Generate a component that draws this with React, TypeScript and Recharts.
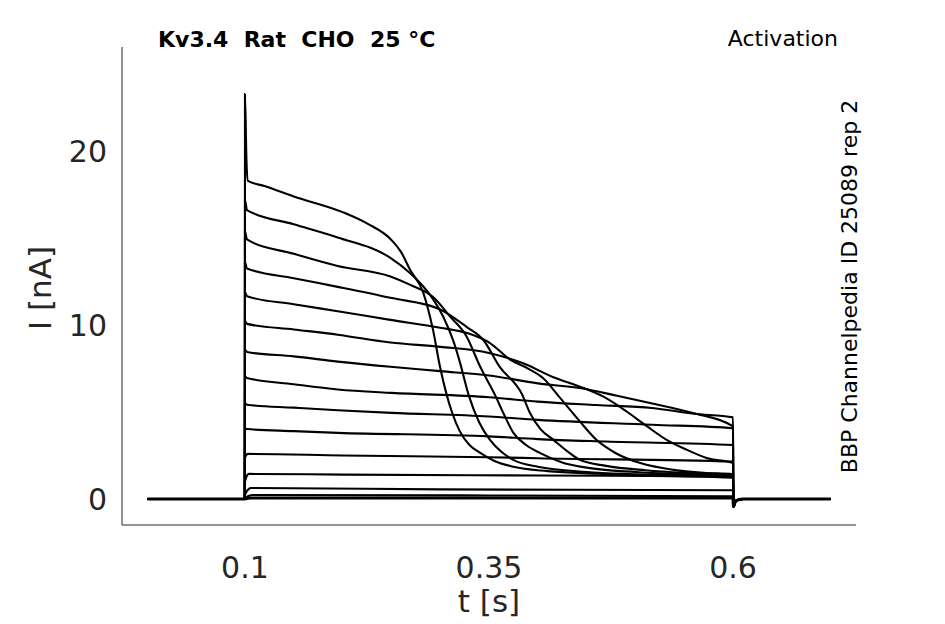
import React from "react";
import { LineChart, Line, XAxis, YAxis } from "recharts";

// ---- data: current traces [t (s), I (nA)] ----
const X_TICKS = [0.1, 0.35, 0.6];
const Y_TICKS = [0, 10, 20];

const trace1: [number, number][] = [
  [0.1, 23.3], [0.1015, 19.5], [0.103, 18.3], [0.12, 18.0], [0.15, 17.4], [0.2, 16.5],
  [0.225, 15.85], [0.25, 14.9], [0.26, 14.2], [0.269, 13.2], [0.2824, 11.9], [0.2926, 9.74],
  [0.2998, 7.6], [0.3066, 6.0], [0.312, 5.0], [0.32, 3.9], [0.33, 3.1], [0.341, 2.65],
  [0.355, 2.2], [0.375, 1.85], [0.41, 1.6], [0.46, 1.45], [0.52, 1.33], [0.6, 1.22],
];
const trace2: [number, number][] = [
  [0.1, 17.2], [0.102, 16.62], [0.15, 15.8], [0.195, 15.04], [0.249, 13.87], [0.269, 13.0],
  [0.279, 12.45], [0.293, 11.47], [0.303, 10.5], [0.313, 9.16], [0.32, 7.9], [0.329, 6.0],
  [0.34, 4.4], [0.351, 3.4], [0.363, 2.7], [0.375, 2.25], [0.4, 1.85], [0.45, 1.55],
  [0.5, 1.42], [0.6, 1.28],
];
const trace3: [number, number][] = [
  [0.1, 15.4], [0.102, 14.93], [0.15, 14.1], [0.195, 13.4], [0.249, 12.8], [0.27, 12.3],
  [0.293, 11.6], [0.31, 10.5], [0.327, 9.35], [0.341, 7.6], [0.356, 6.0], [0.365, 4.9],
  [0.375, 3.8], [0.388, 3.1], [0.402, 2.65], [0.425, 2.1], [0.45, 1.8], [0.5, 1.55],
  [0.55, 1.42], [0.6, 1.32],
];
const trace4: [number, number][] = [
  [0.1, 13.6], [0.102, 13.26], [0.15, 12.7], [0.195, 12.2], [0.249, 11.57], [0.3, 10.9],
  [0.327, 9.9], [0.344, 9.16], [0.361, 7.6], [0.384, 6.0], [0.392, 4.94], [0.403, 4.0],
  [0.416, 3.4], [0.43, 2.75], [0.443, 2.25], [0.47, 1.9], [0.51, 1.65], [0.55, 1.5],
  [0.6, 1.4],
];
const trace5: [number, number][] = [
  [0.1, 11.9], [0.102, 11.66], [0.15, 11.2], [0.195, 10.8], [0.249, 10.3], [0.3, 9.85],
  [0.33, 9.5], [0.351, 8.97], [0.372, 8.0], [0.39, 7.5], [0.405, 6.97], [0.423, 5.8],
  [0.443, 4.46], [0.46, 3.4], [0.48, 2.63], [0.505, 2.06], [0.539, 1.67], [0.57, 1.5],
  [0.6, 1.42],
];
const trace6: [number, number][] = [
  [0.1, 10.25], [0.102, 10.07], [0.15, 9.75], [0.195, 9.45], [0.249, 9.0], [0.3, 8.75],
  [0.35, 8.4], [0.385, 7.8], [0.416, 7.0], [0.446, 6.4], [0.47, 5.8], [0.491, 5.03],
  [0.512, 4.17], [0.532, 3.4], [0.553, 2.82], [0.573, 2.35], [0.6, 2.06],
];
const trace7: [number, number][] = [
  [0.1, 8.6], [0.102, 8.45], [0.15, 8.2], [0.195, 7.9], [0.249, 7.6], [0.3, 7.35],
  [0.35, 7.1], [0.4, 6.65], [0.446, 6.35], [0.48, 5.95], [0.515, 5.52], [0.559, 4.94],
  [0.6, 4.17],
];
const trace8: [number, number][] = [
  [0.1, 7.05], [0.102, 6.96], [0.15, 6.6], [0.195, 6.3], [0.25, 6.1], [0.35, 5.85],
  [0.4, 5.6], [0.46, 5.4], [0.517, 5.23], [0.56, 4.9], [0.6, 4.69],
];
const trace9: [number, number][] = [
  [0.1, 5.5], [0.102, 5.42], [0.15, 5.25], [0.195, 5.1], [0.25, 4.95], [0.35, 4.74],
  [0.4, 4.55], [0.517, 4.27], [0.6, 4.07],
];
const trace10: [number, number][] = [
  [0.1, 4.05], [0.102, 4.02], [0.15, 3.9], [0.195, 3.8], [0.35, 3.6], [0.4, 3.44],
  [0.47, 3.3], [0.6, 3.1],
];
const trace11: [number, number][] = [
  [0.1, 2.4], [0.103, 2.59], [0.2, 2.5], [0.35, 2.4], [0.4, 2.34], [0.6, 2.15],
];
const trace12: [number, number][] = [
  [0.1, 1.0], [0.104, 1.44], [0.2, 1.4], [0.4, 1.35], [0.6, 1.3],
];
const trace13: [number, number][] = [
  [0.1, 0.2], [0.102, 0.45], [0.106, 0.63], [0.3, 0.55], [0.6, 0.5],
];
const trace14: [number, number][] = [
  [0.1, 0.05], [0.103, 0.15], [0.108, 0.23], [0.35, 0.2], [0.6, 0.15],
];
const trace15: [number, number][] = [
  [0.1, 0.0], [0.106, 0.06], [0.6, 0.05],
];

const TRACES = [
  trace1, trace2, trace3, trace4, trace5, trace6, trace7, trace8,
  trace9, trace10, trace11, trace12, trace13, trace14, trace15,
];

// holding level before the step, and tail after it
const PRE: [number, number][] = [[0, 0], [0.0999, 0]];
const TAIL: [number, number][] = [[0.6003, -0.45], [0.603, -0.1], [0.61, 0], [0.7, 0]];

const toRows = (tr: [number, number][]) =>
  [...PRE, ...tr, ...TAIL].map(([t, v]) => ({ t, v }));

const FONT = "'DejaVu Sans', sans-serif";
const GREY = "#262626";

export default function App() {
  return (
    <div style={{ position: "absolute", left: 0, top: 0, width: 945, height: 624, background: "#fff" }}>
      <LineChart width={945} height={624} margin={{ top: 47, right: 89, bottom: 39, left: 42 }}>
        <XAxis
          type="number"
          dataKey="t"
          domain={[-0.026, 0.726]}
          ticks={X_TICKS}
          allowDataOverflow
          height={60}
          tickLine={false}
          tickSize={0}
          tickMargin={32}
          axisLine={{ stroke: GREY, strokeWidth: 1 }}
          tick={{ fontSize: 30, fill: GREY, fontFamily: FONT }}
          tickFormatter={(v: number) => String(v)}
        />
        <YAxis
          type="number"
          domain={[-1.5, 26]}
          ticks={Y_TICKS}
          allowDataOverflow
          width={80}
          tickLine={false}
          tickSize={0}
          tickMargin={15}
          axisLine={{ stroke: GREY, strokeWidth: 1 }}
          tick={{ fontSize: 30, fill: GREY, fontFamily: FONT }}
        />
        {TRACES.map((tr, i) => (
          <Line
            key={i}
            data={toRows(tr)}
            dataKey="v"
            type="monotone"
            stroke="#000"
            strokeWidth={i === TRACES.length - 1 ? 3 : 2.1}
            dot={false}
            activeDot={false}
            isAnimationActive={false}
          />
        ))}
      </LineChart>
      <svg
        width={945}
        height={624}
        style={{ position: "absolute", left: 0, top: 0, pointerEvents: "none" }}
        fontFamily={FONT}
      >
        <text x={158} y={47} fontSize={22} fontWeight="bold" fill="#000" style={{ whiteSpace: "pre" }}>
          {"Kv3.4  Rat  CHO  25 °C"}
        </text>
        <text x={838} y={46} fontSize={22} fill="#000" textAnchor="end">
          Activation
        </text>
        <text
          x={0}
          y={0}
          fontSize={22}
          fill="#000"
          textAnchor="middle"
          transform="translate(857,286.5) rotate(-90)"
        >
          BBP Channelpedia ID 25089 rep 2
        </text>
        <text
          x={0}
          y={0}
          fontSize={31}
          fill={GREY}
          textAnchor="middle"
          transform="translate(51,288) rotate(-90)"
        >
          I [nA]
        </text>
        <text x={489} y={612} fontSize={31} fill={GREY} textAnchor="middle">
          t [s]
        </text>
      </svg>
    </div>
  );
}
